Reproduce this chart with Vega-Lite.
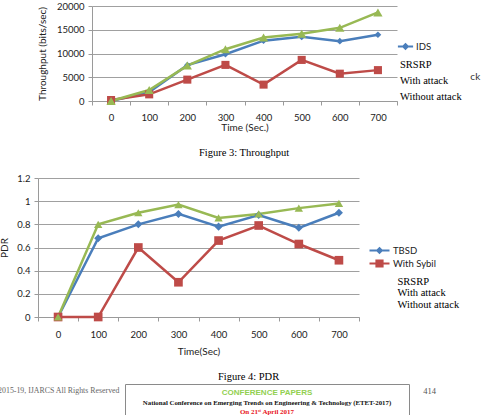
{
  "$schema": "https://vega.github.io/schema/vega-lite/v6.json",
  "background": "white",
  "padding": {"left": -14, "top": 1, "right": 0, "bottom": -2},
  "spacing": 14,
  "config": {
    "view": {"stroke": null},
    "font": "Lato",
    "axis": {
      "labelFont": "Lato", "labelFontSize": 9.5, "labelColor": "#222",
      "titleFont": "Lato", "titleFontSize": 10, "titleFontWeight": "normal", "titleColor": "#222",
      "domainColor": "#9a9a9a", "tickColor": "#9a9a9a", "gridColor": "#a0a0a0", "tickSize": 4
    },
    "legend": {"labelFont": "Lato", "labelFontSize": 9.5, "labelColor": "#222"},
    "title": {"font": "Liberation Serif", "fontSize": 10.5, "fontWeight": "normal", "color": "#000"}
  },
  "resolve": {"scale": {"color": "independent", "shape": "independent", "size": "independent"}},
  "datasets": {
    "throughput": [
      {"time": 0, "series": "IDS", "throughput": 0},
      {"time": 100, "series": "IDS", "throughput": 1900},
      {"time": 200, "series": "IDS", "throughput": 7550},
      {"time": 300, "series": "IDS", "throughput": 9850},
      {"time": 400, "series": "IDS", "throughput": 12700},
      {"time": 500, "series": "IDS", "throughput": 13500},
      {"time": 600, "series": "IDS", "throughput": 12600},
      {"time": 700, "series": "IDS", "throughput": 13950},
      {"time": 0, "series": "With attack", "throughput": 200},
      {"time": 100, "series": "With attack", "throughput": 1400},
      {"time": 200, "series": "With attack", "throughput": 4500},
      {"time": 300, "series": "With attack", "throughput": 7600},
      {"time": 400, "series": "With attack", "throughput": 3450},
      {"time": 500, "series": "With attack", "throughput": 8650},
      {"time": 600, "series": "With attack", "throughput": 5750},
      {"time": 700, "series": "With attack", "throughput": 6500},
      {"time": 0, "series": "Without attack", "throughput": 0},
      {"time": 100, "series": "Without attack", "throughput": 2300},
      {"time": 200, "series": "Without attack", "throughput": 7450},
      {"time": 300, "series": "Without attack", "throughput": 10900},
      {"time": 400, "series": "Without attack", "throughput": 13350},
      {"time": 500, "series": "Without attack", "throughput": 14150},
      {"time": 600, "series": "Without attack", "throughput": 15400},
      {"time": 700, "series": "Without attack", "throughput": 18650}
    ],
    "pdr": [
      {"time": 0, "series": "TBSD", "pdr": 0},
      {"time": 100, "series": "TBSD", "pdr": 0.68},
      {"time": 200, "series": "TBSD", "pdr": 0.80},
      {"time": 300, "series": "TBSD", "pdr": 0.89},
      {"time": 400, "series": "TBSD", "pdr": 0.78},
      {"time": 500, "series": "TBSD", "pdr": 0.88},
      {"time": 600, "series": "TBSD", "pdr": 0.77},
      {"time": 700, "series": "TBSD", "pdr": 0.90},
      {"time": 0, "series": "With Sybil", "pdr": 0},
      {"time": 100, "series": "With Sybil", "pdr": 0},
      {"time": 200, "series": "With Sybil", "pdr": 0.60},
      {"time": 300, "series": "With Sybil", "pdr": 0.30},
      {"time": 400, "series": "With Sybil", "pdr": 0.66},
      {"time": 500, "series": "With Sybil", "pdr": 0.79},
      {"time": 600, "series": "With Sybil", "pdr": 0.63},
      {"time": 700, "series": "With Sybil", "pdr": 0.49},
      {"time": 0, "series": "Without attack", "pdr": 0},
      {"time": 100, "series": "Without attack", "pdr": 0.80},
      {"time": 200, "series": "Without attack", "pdr": 0.90},
      {"time": 300, "series": "Without attack", "pdr": 0.97},
      {"time": 400, "series": "Without attack", "pdr": 0.855},
      {"time": 500, "series": "Without attack", "pdr": 0.89},
      {"time": 600, "series": "Without attack", "pdr": 0.94},
      {"time": 700, "series": "Without attack", "pdr": 0.98}
    ],
    "footer": [
      {"row": 1, "line": "CONFERENCE PAPERS"},
      {"row": 2, "line": "National Conference on Emerging Trends on Engineering & Technology (ETET-2017)"},
      {"row": 3, "line": "On 21ˢᵗ April 2017"}
    ]
  },
  "vconcat": [
    {
      "spacing": 0,
      "hconcat": [
        {"width": 51, "height": 1, "data": {"values": []}, "mark": "point"},
        {
          "width": 305,
          "height": 95,
          "title": {"text": "ck", "orient": "right", "angle": 0, "anchor": "middle", "frame": "group",
            "font": "Lato", "fontSize": 10, "color": "#333", "align": "left", "baseline": "middle", "offset": 63, "dy": 23.5},
          "data": {"name": "throughput"},
          "encoding": {
            "x": {
              "field": "time", "type": "ordinal", "bandPosition": 0.5,
              "scale": {"type": "band", "paddingInner": 0, "paddingOuter": 0},
              "axis": {"title": "Time (Sec.)", "labelAngle": 0, "tickBand": "extent", "labelPadding": 7, "titlePadding": 1}
            },
            "y": {
              "field": "throughput", "type": "quantitative",
              "scale": {"domain": [0, 20000], "nice": false},
              "axis": {"title": "Throughput (bits/sec)", "values": [0, 5000, 10000, 15000, 20000], "format": "d", "grid": true, "labelPadding": 4, "titlePadding": 9}
            },
            "color": {
              "field": "series", "type": "nominal",
              "scale": {"domain": ["IDS", "SRSRP", "With attack", "Without attack"], "range": ["#4A7EBB", "#000000", "#BE4B48", "#98B954"]},
              "legend": {
                "orient": "none", "legendX": 414, "legendY": 35, "title": null, "padding": 0,
                "values": ["IDS", "SRSRP", "With attack", "Without attack"],
                "symbolSize": 64, "labelOffset": 5, "rowPadding": 5,
                "encode": {
                  "symbols": {"update": {
                    "shape": {"signal": "datum.value === 'IDS' ? 'M-1.9,0H1.9M0,-0.55L0.55,0L0,0.55L-0.55,0Z' : 'circle'"},
                    "fill": {"value": "#4A7EBB"},
                    "stroke": {"value": "#4A7EBB"},
                    "strokeWidth": {"value": 2.2},
                    "opacity": {"signal": "datum.value === 'IDS' ? 1 : 0"}
                  }},
                  "labels": {"update": {
                    "font": {"signal": "datum.value === 'IDS' ? 'Lato' : 'Liberation Serif'"},
                    "fontSize": {"signal": "datum.value === 'IDS' ? 9.5 : 10.5"},
                    "fill": {"signal": "datum.value === 'IDS' ? '#222' : '#000'"},
                    "dx": {"signal": "datum.value === 'IDS' ? 0 : -16"}
                  }}
                }
              }
            }
          },
          "layer": [
            {"mark": {"type": "line", "strokeWidth": 2.5}},
            {
              "mark": {"type": "point", "filled": true, "opacity": 1},
              "encoding": {
                "shape": {"field": "series", "type": "nominal", "scale": {"domain": ["IDS", "With attack", "Without attack"], "range": ["diamond", "square", "triangle-up"]}, "legend": null},
                "size": {"field": "series", "type": "ordinal", "scale": {"domain": ["IDS", "With attack", "Without attack"], "range": [45, 85, 70]}, "legend": null}
              }
            }
          ]
        }
      ]
    },
    {
      "spacing": 0,
      "hconcat": [
        {"width": 13, "height": 1, "data": {"values": []}, "mark": "point"},
        {
          "width": 321,
          "height": 139,
          "title": {"text": "Figure 3: Throughput", "orient": "top", "anchor": "middle", "frame": "group", "dx": 45.5, "offset": 15},
          "data": {"name": "pdr"},
          "encoding": {
            "x": {
              "field": "time", "type": "ordinal", "bandPosition": 0.5,
              "scale": {"type": "band", "paddingInner": 0, "paddingOuter": 0},
              "axis": {"title": "Time(Sec)", "labelAngle": 0, "tickBand": "extent", "labelPadding": 8, "titlePadding": 8}
            },
            "y": {
              "field": "pdr", "type": "quantitative",
              "scale": {"domain": [0, 1.2], "nice": false},
              "axis": {"title": "PDR", "values": [0, 0.2, 0.4, 0.6, 0.8, 1, 1.2], "format": "~g", "grid": true, "labelPadding": 4, "titlePadding": 7}
            },
            "color": {
              "field": "series", "type": "nominal",
              "scale": {"domain": ["TBSD", "With Sybil", "Without attack"], "range": ["#4A7EBB", "#BE4B48", "#98B954"]},
              "legend": {
                "orient": "none", "legendX": 388, "legendY": 67, "padding": 0,
                "values": ["TBSD", "With Sybil"],
                "title": ["SRSRP", "With attack", "Without attack"],
                "titleOrient": "bottom", "titleAnchor": "start",
                "titleFont": "Liberation Serif", "titleFontSize": 10.5, "titleFontWeight": "normal", "titleColor": "#000",
                "titleLineHeight": 11.3, "titlePadding": 6, "titleLimit": 200,
                "symbolSize": 64, "labelOffset": 8, "rowPadding": -2.7,
                "encode": {
                  "symbols": {"update": {
                    "shape": {"signal": "datum.value === 'TBSD' ? 'M-2.5,0H2.5M0,-0.55L0.55,0L0,0.55L-0.55,0Z' : 'M-2.5,0H2.5M-0.75,-0.75H0.75V0.75H-0.75Z'"},
                    "size": {"value": 64},
                    "fill": {"signal": "datum.value === 'With Sybil' ? '#BE4B48' : '#4A7EBB'"},
                    "stroke": {"signal": "datum.value === 'With Sybil' ? '#BE4B48' : '#4A7EBB'"},
                    "strokeWidth": {"value": 2.2},
                    "opacity": {"value": 1}
                  }},
                  "title": {"update": {"dx": {"value": 23.5}}}
                }
              }
            }
          },
          "layer": [
            {"mark": {"type": "line", "strokeWidth": 2.5}},
            {
              "mark": {"type": "point", "filled": true, "opacity": 1},
              "encoding": {
                "shape": {"field": "series", "type": "nominal", "scale": {"domain": ["Without attack", "TBSD", "With Sybil"], "range": ["triangle-up", "diamond", "square"]}, "legend": null},
                "size": {"field": "series", "type": "ordinal", "scale": {"domain": ["With Sybil", "Without attack", "TBSD"], "range": [75, 65, 45]}, "legend": null}
              }
            }
          ]
        }
      ]
    },
    {
      "spacing": 0,
      "hconcat": [
        {"width": 2, "height": 1, "data": {"values": []}, "mark": "point"},
        {
          "width": 284,
          "height": 33,
          "view": {"stroke": "#8a8a8a", "strokeWidth": 1},
          "title": {"text": "Figure 4: PDR", "orient": "top", "anchor": "middle", "frame": "group", "dx": -18.5, "offset": 1.5},
          "data": {"name": "footer"},
          "encoding": {
            "x": {
              "datum": 0.5, "type": "quantitative", "scale": {"domain": [0, 1]},
              "axis": {"orient": "top", "title": "414", "labels": false, "ticks": false, "domain": false, "grid": false,
                "titleX": 304, "titleY": 6, "titleAngle": 0, "titleAlign": "center", "titleBaseline": "middle",
                "titleFont": "Liberation Serif", "titleFontSize": 8.5, "titleColor": "#555"}
            },
            "y": {
              "field": "row", "type": "ordinal", "scale": {"type": "point", "padding": 0.765, "align": 0.65},
              "axis": {"title": "© 2015-19, IJARCS All Rights Reserved", "labels": false, "ticks": false, "domain": false, "grid": false,
                "titleAngle": 0, "titleAlign": "right", "titleBaseline": "middle", "titleX": -6, "titleY": 6,
                "titleFont": "Liberation Serif", "titleFontSize": 7.85, "titleColor": "#666"}
            },
            "text": {"field": "line"}
          },
          "layer": [
            {"transform": [{"filter": "datum.row === 1"}], "mark": {"type": "text", "font": "Liberation Sans", "fontWeight": "bold", "fontSize": 8, "color": "#92D050"}},
            {"transform": [{"filter": "datum.row === 2"}], "mark": {"type": "text", "font": "Liberation Serif", "fontWeight": "bold", "fontSize": 6.8, "color": "#111"}},
            {"transform": [{"filter": "datum.row === 3"}], "mark": {"type": "text", "font": "Liberation Serif", "fontWeight": "bold", "fontSize": 7, "color": "#E8141B"}}
          ]
        }
      ]
    }
  ]
}
